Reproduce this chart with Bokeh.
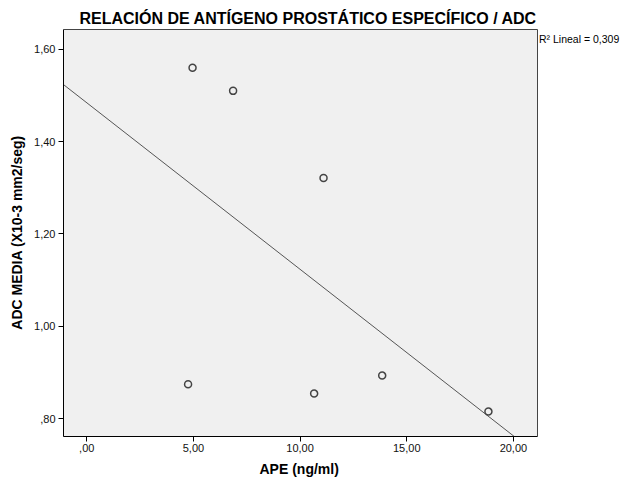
import numpy as np
from bokeh.plotting import figure
from bokeh.models import FixedTicker, Range1d, Title
from bokeh.core.properties import value
from bokeh.embed import file_html
from bokeh.resources import INLINE

# ---- data ----
ape = [4.75, 10.66, 13.85, 18.83, 4.96, 6.86, 11.10]
adc = [0.874, 0.854, 0.893, 0.815, 1.560, 1.510, 1.321]

x_ticks = [0, 5, 10, 15, 20]
x_tick_labels = [",00", "5,00", "10,00", "15,00", "20,00"]
y_ticks = [0.8, 1.0, 1.2, 1.4, 1.6]
y_tick_labels = [",80", "1,00", "1,20", "1,40", "1,60"]

title_text = "RELACIÓN DE ANTÍGENO PROSTÁTICO ESPECÍFICO / ADC"
x_label = "APE (ng/ml)"
y_label = "ADC MEDIA (X10-3 mm2/seg)"
r2_text = "R² Lineal = 0,309"

# axis extents of the chart box
x_start, x_end = -1.09, 21.13
y_start, y_end = 0.761, 1.643

FONT = "Liberation Sans"

# layout in pixels
W, H = 620, 485
left, top, bottom = 63, 28, 49
box_w, box_h = 474, 407

xunit = (x_end - x_start) / box_w
yunit = (y_end - y_start) / box_h
x_canvas_end = x_start + (W - left) * xunit      # frame runs to canvas right edge
y_frame_top = y_end + 1 * yunit                  # 1px headroom for the box border

p = figure(width=W, height=H, output_backend="svg", toolbar_location=None,
           x_range=Range1d(x_start, x_canvas_end), y_range=Range1d(y_start, y_frame_top),
           min_border_left=left, min_border_right=0, min_border_top=top,
           min_border_bottom=bottom)

p.background_fill_color = "white"
p.border_fill_color = "white"
p.outline_line_color = None
p.grid.visible = False

# chart box
p.quad(left=[x_start], right=[x_end], bottom=[y_start], top=[y_end],
       fill_color="#f0f0f0", line_color="#444444", line_width=1)

# axes
for ax, ticks, labels in ((p.xaxis[0], x_ticks, x_tick_labels), (p.yaxis[0], y_ticks, y_tick_labels)):
    ax.ticker = FixedTicker(ticks=ticks)
    ax.major_label_overrides = {t: l for t, l in zip(ticks, labels)}
    ax.minor_tick_line_color = None
    ax.major_tick_in = 0
    ax.major_tick_out = 5
    ax.major_tick_line_color = "black"
    ax.axis_line_color = "black"
    ax.major_label_text_font = FONT
    ax.major_label_text_font_size = "11px"
    ax.major_label_text_color = "#111111"
    ax.axis_label_text_font = FONT
    ax.axis_label_text_font_size = "14px"
    ax.axis_label_text_font_style = "bold"
    ax.axis_label_text_color = "black"

p.xaxis.bounds = (x_start, x_end)
p.yaxis.bounds = (y_start, y_end)
p.yaxis.axis_label = y_label
p.xaxis.major_label_standoff = 2
p.yaxis.major_label_standoff = 3
p.yaxis.axis_label_standoff = 6

# regression line computed from data
slope, intercept = np.polyfit(ape, adc, 1)
fx = [x_start, x_end]
fy = [intercept + slope * v for v in fx]
p.line(fx, fy, line_color="#555555", line_width=1)

# points
p.scatter(ape, adc, marker="circle", size=7, fill_color=None,
          line_color="#444444", line_width=1.5)

# R2 annotation just right of the box, at its top
p.text(x=[x_end], y=[y_end], text=[r2_text], x_offset=1.5, y_offset=9,
       text_align="left", text_baseline="alphabetic",
       text_font=value(FONT), text_font_size="10.5px", text_color="black")

# title
p.add_layout(Title(text=title_text, align="left", offset=16, standoff=4,
                   text_font=FONT, text_font_size="16px", text_font_style="bold",
                   text_color="black"), "above")

# x axis label (centred under the chart box)
p.add_layout(Title(text=x_label, align="left", offset=196, standoff=9,
                   text_font=FONT, text_font_size="14px", text_font_style="bold",
                   text_color="black"), "below")

open("out.html", "w").write(file_html(p, INLINE))
